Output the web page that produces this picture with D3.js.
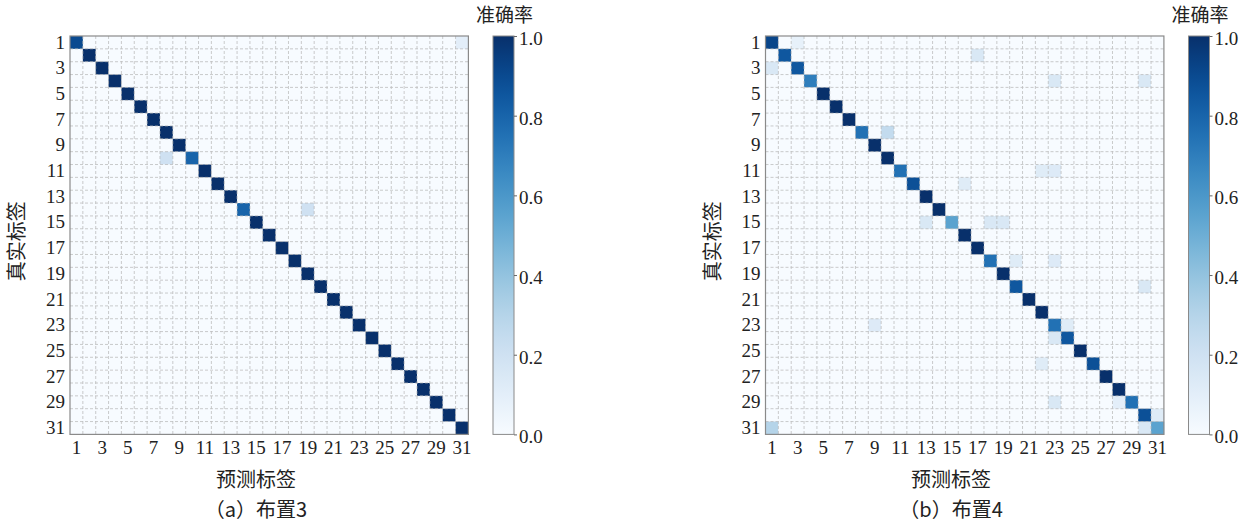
<!DOCTYPE html>
<html>
<head>
<meta charset="utf-8">
<script src="https://cdn.jsdelivr.net/npm/d3@7"></script>
<style>
  html, body { margin: 0; padding: 0; background: #fff; }
  svg { display: block; }
</style>
</head>
<body>
<svg id="fig" width="1253" height="524"></svg>
<script>
// Class indices shared by both confusion matrices
const classes = [1,2,3,4,5,6,7,8,9,10,11,12,13,14,15,16,17,18,19,20,21,22,23,24,25,26,27,28,29,30,31];
const tickLabels = [1,3,5,7,9,11,13,15,17,19,21,23,25,27,29,31];
const colorbarTicks = [0, 0.2, 0.4, 0.6, 0.8, 1.0];

// Layout 3: per-class accuracy on the diagonal, misclassifications as [true, predicted, rate]
const diagLayout3 = [0.9,1,1,1,1,1,1,1,1,0.8,1,1,1,0.8,1,1,1,1,1,1,1,1,1,1,1,1,1,1,1,1,1];
const offLayout3 = [
  [1, 31, 0.1],
  [10, 8, 0.2],
  [14, 19, 0.2]
];

// Layout 4
const diagLayout4 = [0.92,0.85,0.85,0.7,1,1,1,0.75,1,1,0.75,0.88,1,1,0.55,1,1,0.75,1,0.85,1,1,0.75,0.85,1,0.88,1,1,0.75,0.88,0.55];
const offLayout4 = [
  [1, 3, 0.08],
  [2, 17, 0.15],
  [3, 1, 0.15],
  [4, 23, 0.15], [4, 30, 0.15],
  [8, 10, 0.25],
  [11, 22, 0.12], [11, 23, 0.13],
  [12, 16, 0.12],
  [15, 13, 0.15], [15, 18, 0.15], [15, 19, 0.15],
  [18, 20, 0.12], [18, 23, 0.13],
  [20, 30, 0.15],
  [23, 9, 0.13], [23, 24, 0.12],
  [24, 23, 0.15],
  [26, 22, 0.12],
  [29, 23, 0.15], [29, 28, 0.1],
  [30, 31, 0.12],
  [31, 1, 0.3], [31, 30, 0.15]
];

const panels = [
  { diag: diagLayout3, off: offLayout3, x0: 70, caption: "（a）布置3", capX: 256, cbX: 493 },
  { diag: diagLayout4, off: offLayout4, x0: 765.5, caption: "（b）布置4", capX: 951, cbX: 1188.5 }
];

const SERIF = "'Liberation Serif', 'Times New Roman', 'DejaVu Serif', serif";
const CJK = "'Noto Sans CJK SC', sans-serif";

const svg = d3.select("#fig");
const color = d3.scaleSequential(d3.interpolateBlues).domain([0, 1]);
const side = 398.4;
const y0 = 36;

// gradient for the colour bars
const defs = svg.append("defs");
const grad = defs.append("linearGradient").attr("id", "blues")
  .attr("x1", 0).attr("y1", 1).attr("x2", 0).attr("y2", 0);
d3.range(0, 1.0001, 0.05).forEach(t => {
  grad.append("stop").attr("offset", t).attr("stop-color", color(t));
});

function styleNumbers(axisG) {
  axisG.attr("font-family", SERIF).attr("font-size", 19);
  axisG.selectAll("text")
    .attr("font-family", SERIF)
    .style("font-family", SERIF)
    .attr("font-size", 19)
    .attr("fill", "#222");
}

panels.forEach(p => {
  const g = svg.append("g");
  const x = d3.scaleBand().domain(classes).range([p.x0, p.x0 + side]);
  const y = d3.scaleBand().domain(classes).range([y0, y0 + side]);

  // full matrix: zero everywhere, then diagonal and off-diagonal rates
  const cells = [];
  classes.forEach(r => classes.forEach(c => cells.push({ r, c, v: 0 })));
  const idx = (r, c) => (r - 1) * classes.length + (c - 1);
  p.diag.forEach((v, i) => { cells[idx(classes[i], classes[i])].v = v; });
  p.off.forEach(([r, c, v]) => { cells[idx(r, c)].v = v; });

  g.selectAll("rect.cell").data(cells).join("rect")
    .attr("class", "cell")
    .attr("x", d => x(d.c)).attr("y", d => y(d.r))
    .attr("width", x.bandwidth() + 0.3).attr("height", y.bandwidth() + 0.3)
    .attr("fill", d => color(d.v));

  // dashed grid on cell boundaries
  const grid = g.append("g").attr("stroke", "#b4b4b4").attr("stroke-width", 0.8)
    .attr("stroke-dasharray", "3,2").attr("opacity", 0.85);
  classes.slice(1).forEach(k => {
    grid.append("line").attr("x1", x(k)).attr("x2", x(k)).attr("y1", y0).attr("y2", y0 + side);
    grid.append("line").attr("y1", y(k)).attr("y2", y(k)).attr("x1", p.x0).attr("x2", p.x0 + side);
  });

  g.append("rect").attr("x", p.x0).attr("y", y0).attr("width", side).attr("height", side)
    .attr("fill", "none").attr("stroke", "#8a8a8a").attr("stroke-width", 1.2);

  // axes
  const ax = g.append("g").attr("transform", `translate(0,${y0 + side})`)
    .call(d3.axisBottom(x).tickValues(tickLabels).tickSize(0).tickPadding(6));
  const ay = g.append("g").attr("transform", `translate(${p.x0},0)`)
    .call(d3.axisLeft(y).tickValues(tickLabels).tickSize(0).tickPadding(5));
  [ax, ay].forEach(a => {
    a.select(".domain").remove();
    styleNumbers(a);
  });

  // axis titles and caption
  g.append("text").attr("font-family", CJK).attr("font-size", 20).attr("fill", "#222")
    .attr("text-anchor", "middle")
    .attr("transform", `translate(${p.x0 - 46},${y0 + side / 2 + 6}) rotate(-90)`)
    .text("真实标签");
  g.append("text").attr("font-family", CJK).attr("font-size", 20).attr("fill", "#222")
    .attr("text-anchor", "middle").attr("x", p.capX).attr("y", 487).text("预测标签");
  g.append("text").attr("font-family", CJK).attr("font-size", 20).attr("fill", "#222")
    .attr("text-anchor", "middle").attr("x", p.capX).attr("y", 517).text(p.caption);

  // colour bar
  const cbW = 21;
  const cy = d3.scaleLinear().domain([0, 1]).range([y0 + side, y0]);
  g.append("rect").attr("x", p.cbX).attr("y", y0).attr("width", cbW).attr("height", side)
    .attr("fill", "url(#blues)").attr("stroke", "#8a8a8a").attr("stroke-width", 1);
  const cax = g.append("g").attr("transform", `translate(${p.cbX + cbW},0)`)
    .call(d3.axisRight(cy).tickValues(colorbarTicks).tickFormat(d3.format(".1f")).tickSize(3).tickPadding(2));
  cax.select(".domain").remove();
  cax.selectAll("line").attr("stroke", "#666");
  styleNumbers(cax);
  cax.selectAll("text").attr("dy", "0.45em");
  g.append("text").attr("font-family", CJK).attr("font-size", 19).attr("fill", "#222")
    .attr("text-anchor", "middle").attr("x", p.cbX + cbW / 2 + 1).attr("y", 22).text("准确率");
});
</script>
</body>
</html>
